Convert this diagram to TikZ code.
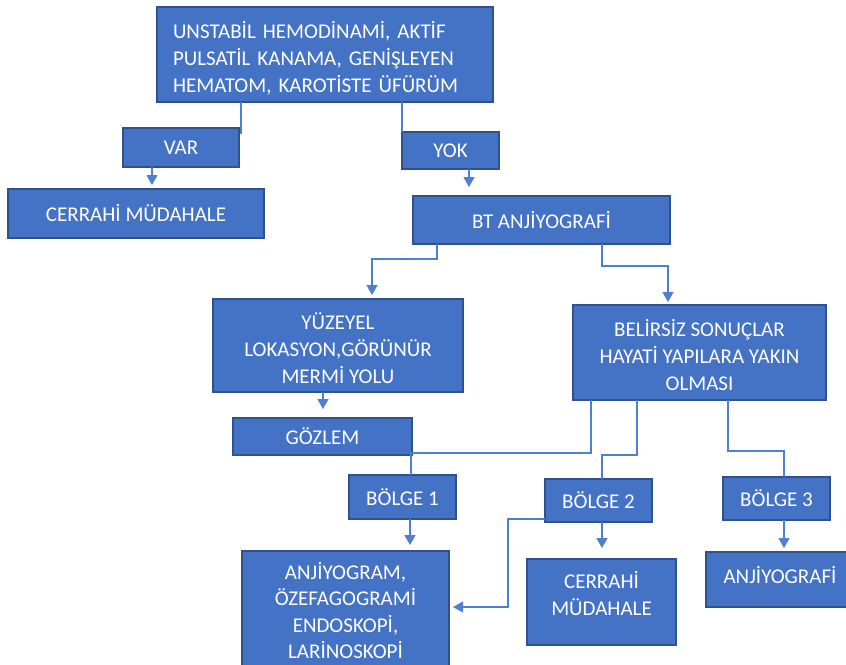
\documentclass[tikz,border=0pt]{standalone}
\usepackage{fontspec}
\setmainfont{Carlito}
\usetikzlibrary{arrows.meta}
\definecolor{boxfill}{HTML}{4472C4}
\definecolor{boxline}{HTML}{2F528F}
\definecolor{connblue}{HTML}{4F7FCF}
\tikzset{
  box/.style={draw=boxline, line width=1.6pt, fill=boxfill, inner sep=0pt, outer sep=0pt,
    text=white, font=\fontsize{21}{27}\selectfont, align=center},
  txt/.style={text=white, font=\fontsize{21}{27}\selectfont, align=center, inner sep=0pt},
  conn/.style={draw=connblue, line width=1.3pt},
  arr/.style={conn, -{Triangle[width=11pt,length=10pt]}, shorten >=4pt},
}
\begin{document}
\begin{tikzpicture}[x=1pt,y=-1pt]
\clip (0,0) rectangle (846,664);
\useasboundingbox (0,0) rectangle (846,664);
\fill[white] (0,0) rectangle (846,664);
% boxes
\node[box, minimum width=336, minimum height=95] (top) at (325,54.5) {};
\node[txt, text width=304, align=left] (toptxt) at (325,58.3) {UNSTABİL HEMODİNAMİ, AKTİF\\PULSATİL KANAMA, GENİŞLEYEN\\HEMATOM, KAROTİSTE ÜFÜRÜM};
\node[box, minimum width=116, minimum height=39] (var) at (181,147.5) {VAR};
\node[box, minimum width=256, minimum height=49] (cer1) at (136,213.5) {CERRAHİ MÜDAHALE};
\node[box, minimum width=97, minimum height=37] (yok) at (450.5,150.5) {YOK};
\node[box, minimum width=257, minimum height=48] (bt) at (541.5,220) {BT ANJİYOGRAFİ};
\node[box, minimum width=250, minimum height=93] (yue) at (338,345.5) {};
\node[txt] (yuetxt) at (338,348) {YÜZEYEL\\LOKASYON,GÖRÜNÜR\\MERMİ YOLU};
\node[box, minimum width=253, minimum height=95] (bel) at (699.5,352.5) {};
\node[txt] (beltxt) at (699.5,354.7) {BELİRSİZ SONUÇLAR\\HAYATİ YAPILARA YAKIN\\OLMASI};
\node[box, minimum width=179, minimum height=37] (goz) at (322.5,436.5) {GÖZLEM};
\node[box, minimum width=107, minimum height=44] (b1) at (402.5,497) {BÖLGE 1};
\node[box, minimum width=107, minimum height=43] (b2) at (598.5,500.5) {BÖLGE 2};
\node[box, minimum width=107, minimum height=43] (b3) at (776.5,498.5) {BÖLGE 3};
\node[box, minimum width=207, minimum height=123] (anj) at (345.5,612.5) {};
\node[txt, font=\fontsize{21}{26.5}\selectfont] (anjtxt) at (345.5,610.5) {ANJİYOGRAM,\\ÖZEFAGOGRAMİ\\ENDOSKOPİ,\\LARİNOSKOPİ};
\node[box, minimum width=149, minimum height=86] (cer2) at (601.5,602) {};
\node[txt] (cer2txt) at (601.5,593.5) {CERRAHİ\\MÜDAHALE};
\node[box, minimum width=148, minimum height=55] (anf) at (780,579.5) {};
\node[txt] (anftxt) at (780,575) {ANJİYOGRAFİ};
% connectors
\draw[conn] ([xshift=2pt]top.south -| var.east) -- ([xshift=2pt,yshift=-6pt]var.north east);
\draw[arr] ([xshift=-29pt]var.south) -- ([xshift=-29pt]var.south |- cer1.north);
\draw[conn] (top.south -| yok.west) -- (yok.north west);
\draw[arr, shorten >=9pt] ([xshift=18.5pt]yok.south) -- ([xshift=18.5pt]yok.south |- bt.north);
\draw[arr] ([xshift=-104.5pt]bt.south) -- ++(0,15) -| ([xshift=34pt]yue.north);
\draw[arr, shorten >=3pt] ([xshift=60.5pt]bt.south) -- ++(0,22) -| ([xshift=-31.5pt]bel.north);
\draw[arr, shorten >=9pt] ([xshift=-15pt]yue.south) -- ([xshift=-15pt]yue.south |- goz.north);
\draw[conn] ([xshift=-108.5pt]bel.south) -- ++(0,53) -| ([xshift=8.5pt]b1.north);
\draw[conn] ([xshift=-62.5pt]bel.south) -- ++(0,55) -| ([xshift=3.5pt]b2.north);
\draw[conn] ([xshift=28.5pt]bel.south) -- ++(0,51) -| ([xshift=7.5pt]b3.north);
\draw[arr, shorten >=6pt] ([xshift=7.5pt]b1.south) -- ([xshift=7.5pt]b1.south |- anj.north);
\draw[arr, shorten >=11pt] ([xshift=3.5pt]b2.south) -- ([xshift=3.5pt]b2.south |- cer2.north);
\draw[arr] ([xshift=7.5pt]b3.south) -- ([xshift=7.5pt]b3.south |- anf.north);
\draw[arr] ([yshift=-18.5pt]b2.west) -- ++(-37,0) |- ([yshift=5.5pt]anj.east);
\end{tikzpicture}
\end{document}
